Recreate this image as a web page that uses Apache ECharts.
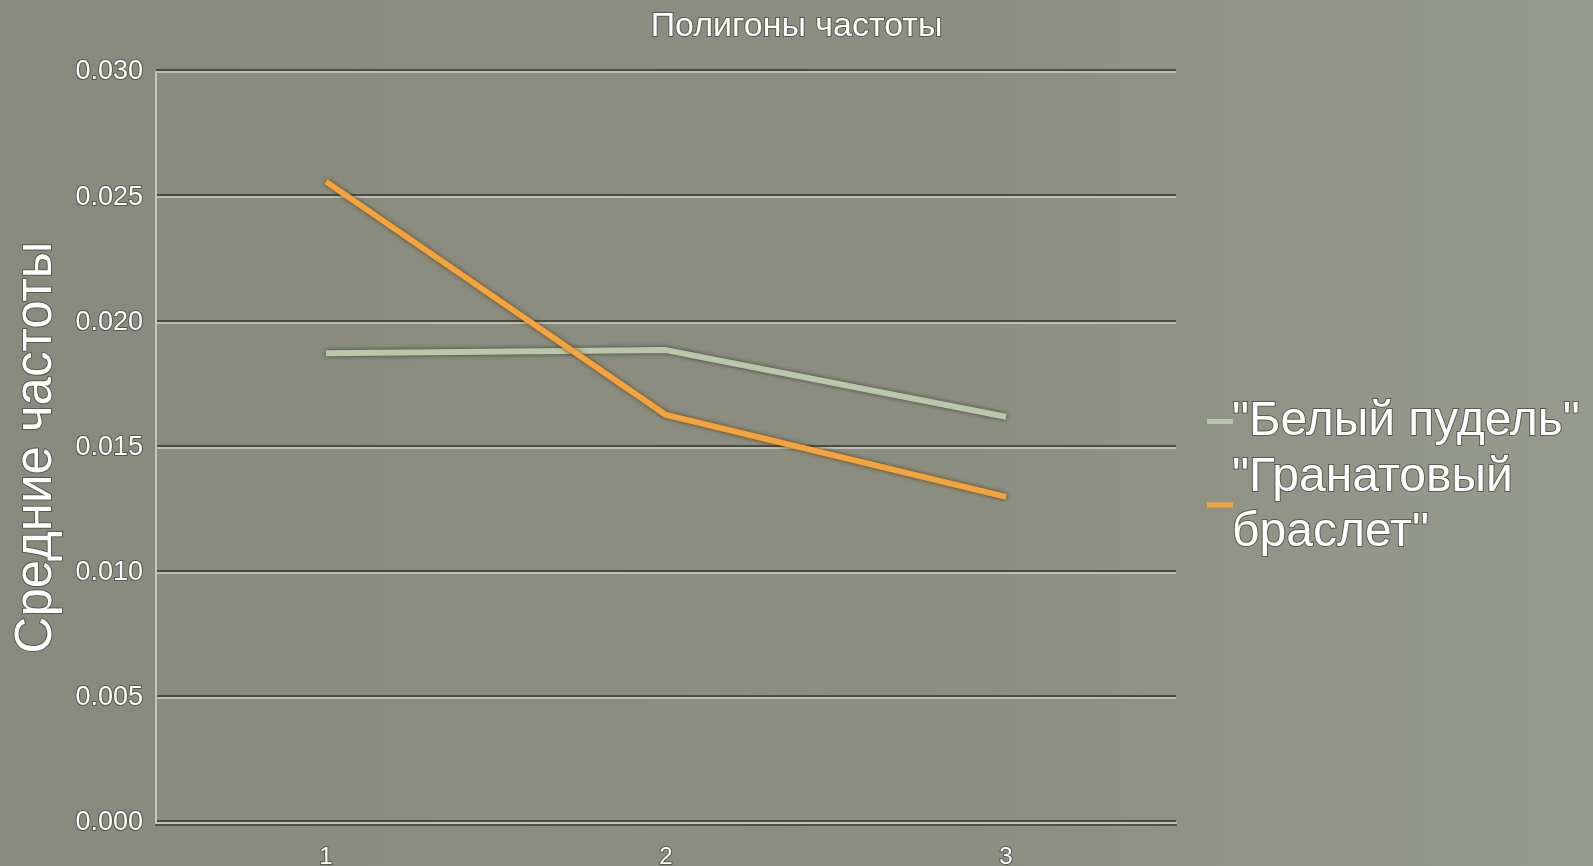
<!DOCTYPE html>
<html lang="ru">
<head>
    <meta charset="UTF-8">
    <title>Полигоны частоты</title>
    <script type="text/javascript" src="https://cdn.jsdelivr.net/npm/echarts@6/dist/echarts.min.js"></script>
    <style>
        html, body {
            margin: 0;
            padding: 0;
            overflow: hidden;
            background: #8a8d80;
        }
    </style>
</head>
<body>
<div id="container" style="width: 1593px; height: 866px"></div>
<script>
    // данные
    let categories = ['1', '2', '3'];
    let seriesNames = ['"Белый пудель"', '"Гранатовый браслет"'];
    let poodle = [0.01876, 0.01889, 0.01623];
    let bracelet = [0.02562, 0.01630, 0.01303];
    let yTicks = [0, 0.005, 0.010, 0.015, 0.020, 0.025, 0.030];

    let textShadow = {
        color: '#ffffff',
        textBorderColor: 'rgba(70,72,64,0.75)',
        textBorderWidth: 2,
        fontFamily: 'Liberation Sans, Arial, sans-serif'
    };

    var chart = echarts.init(document.getElementById('container'));

    var option = {
        backgroundColor: {
            type: 'linear', x: 0, y: 0, x2: 1, y2: 0,
            colorStops: [
                {offset: 0, color: '#878a7d'},
                {offset: 0.6, color: '#8b8e81'},
                {offset: 1, color: '#969a8d'}
            ]
        },
        title: {
            text: 'Полигоны частоты',
            left: 'center',
            top: 5,
            textStyle: Object.assign({}, textShadow, {fontSize: 34, fontWeight: 'normal'})
        },
        legend: {
            orient: 'vertical',
            left: 1202,
            top: 389,
            icon: 'rect',
            itemWidth: 26,
            itemHeight: 5,
            itemGap: 1,
            textStyle: Object.assign({}, textShadow, {fontSize: 48, lineHeight: 55, padding: [0, 0, 0, -6]}),
            formatter: function (name) {
                return name.replace('Гранатовый ', 'Гранатовый\n');
            },
            data: seriesNames
        },
        grid: {
            left: 156,
            top: 72,
            right: 417,
            bottom: 43,
            outerBoundsMode: 'none'
        },
        xAxis: {
            type: 'category',
            data: categories,
            boundaryGap: true,
            axisLine: {lineStyle: {color: '#c4c4bc', width: 2, shadowColor: 'rgba(40,40,35,0.6)', shadowOffsetY: 2}},
            axisTick: {show: false},
            axisLabel: Object.assign({}, textShadow, {fontSize: 24, margin: 22})
        },
        yAxis: {
            type: 'value',
            min: yTicks[0],
            max: yTicks[yTicks.length - 1],
            interval: 0.005,
            name: 'Средние частоты',
            nameLocation: 'middle',
            nameGap: 93,
            nameTextStyle: Object.assign({}, textShadow, {fontSize: 51}),
            axisLine: {show: true, lineStyle: {color: '#c4c4bc', width: 2}},
            axisTick: {show: false},
            axisLabel: Object.assign({}, textShadow, {
                fontSize: 27,
                margin: 13,
                formatter: function (v) { return v.toFixed(3); }
            }),
            splitLine: {
                lineStyle: {color: '#bcbdb5', width: 2, shadowColor: 'rgba(45,45,40,0.7)', shadowOffsetY: -2}
            }
        },
        series: [
            {
                name: seriesNames[0],
                type: 'line',
                data: poodle,
                symbol: 'none',
                color: '#b8c8ab',
                lineStyle: {width: 6, color: '#b8c8ab', shadowColor: 'rgba(50,55,45,0.9)', shadowBlur: 4},
                z: 2
            },
            {
                name: seriesNames[1],
                type: 'line',
                data: bracelet,
                symbol: 'none',
                color: '#f4a43a',
                lineStyle: {width: 6, color: '#f4a43a', shadowColor: 'rgba(80,55,25,0.9)', shadowBlur: 4},
                z: 3
            }
        ],
        animation: false
    };

    chart.setOption(option);
</script>
</body>
</html>
